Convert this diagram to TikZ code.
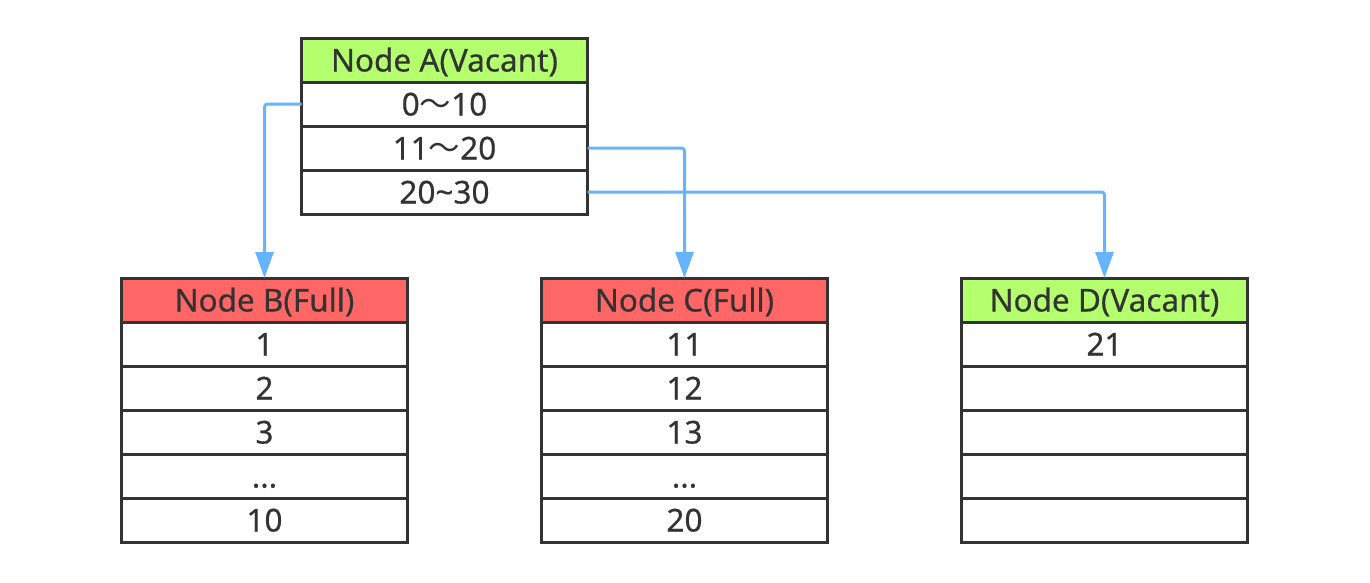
\documentclass[tikz,border=0pt]{standalone}
\usepackage{fontspec}
\setmainfont{Noto Sans}[FakeBold=0.5]
\newfontfamily\cjk{Noto Sans CJK SC}
\usetikzlibrary{arrows.meta}
\definecolor{boxline}{HTML}{333333}
\definecolor{vacant}{HTML}{B3FF6E}
\definecolor{full}{HTML}{FF6666}
\definecolor{link}{HTML}{66B3FF}
\newcommand{\wtilde}{{\cjk\mdseries ～}}
\begin{document}
\begin{tikzpicture}[x=1pt,y=-1pt,
  cell/.style={draw=boxline,line width=3pt,fill=white,minimum width=286pt,minimum height=44pt,
    inner sep=0pt,outer sep=0pt,anchor=north west,text=boxline,
    text height=23pt,text depth=0pt,font=\fontsize{31.5}{36}\selectfont\bfseries},
  greenhead/.style={cell,fill=vacant},
  redhead/.style={cell,fill=full},
  arr/.style={draw=link,line width=3pt,rounded corners=3pt,-{Triangle[width=18pt,length=26pt]}}]
\useasboundingbox (0,0) rectangle (1370,582);
% Node A
\node[greenhead] (A0) at (301.5,38) {Node A(Vacant)};
\node[cell] (A1) at (301.5,82) {0\wtilde10};
\node[cell] (A2) at (301.5,126) {11\wtilde20};
\node[cell] (A3) at (301.5,170) {20\char`~30};
% Node B
\node[redhead] (B0) at (121.5,278) {Node B(Full)};
\node[cell] (B1) at (121.5,322) {1};
\node[cell] (B2) at (121.5,366) {2};
\node[cell] (B3) at (121.5,410) {3};
\node[cell] (B4) at (121.5,454) {...};
\node[cell] (B5) at (121.5,498) {10};
% Node C
\node[redhead] (C0) at (541.5,278) {Node C(Full)};
\node[cell] (C1) at (541.5,322) {11};
\node[cell] (C2) at (541.5,366) {12};
\node[cell] (C3) at (541.5,410) {13};
\node[cell] (C4) at (541.5,454) {...};
\node[cell] (C5) at (541.5,498) {20};
% Node D
\node[greenhead] (D0) at (961.5,278) {Node D(Vacant)};
\node[cell] (D1) at (961.5,322) {21};
\node[cell] (D2) at (961.5,366) {};
\node[cell] (D3) at (961.5,410) {};
\node[cell] (D4) at (961.5,454) {};
\node[cell] (D5) at (961.5,498) {};
% connectors
\draw[arr] (A1.west) -| (B0.north);
\draw[arr] (A2.east) -| (C0.north);
\draw[arr] (A3.east) -| (D0.north);
\end{tikzpicture}
\end{document}
